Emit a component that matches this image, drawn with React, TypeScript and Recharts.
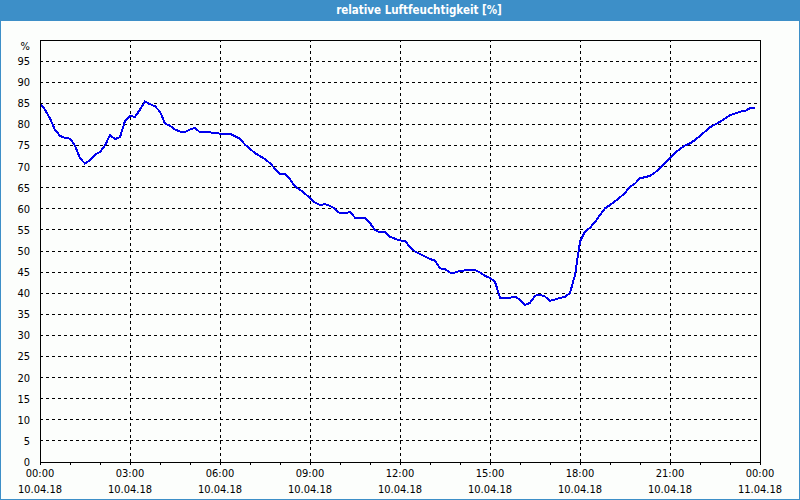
import React from "react";
import { LineChart, Line, XAxis, YAxis, ReferenceLine } from "recharts";

// relative humidity (%) every 10 minutes from 10.04.18 00:00 to 23:50
const humidity: number[] = [
  85, 83.5, 81.4, 78.7, 77.3, 76.8, 76.6, 75, 72, 70.7, 71.5, 72.8, 73.5, 75, 77.5, 76.5, 77, 80.8, 82, 81.8, 83.5, 85.4, 84.8, 84.3, 83, 80.2, 79.7,
  78.8, 78.3, 78.2, 78.8, 79.2, 78.1, 78.1, 78.1, 78, 77.8, 77.8, 77.8, 77.2, 76.6, 75.2, 74.2, 73.2, 72.5, 71.8, 70.8, 69.5, 68.3, 68.3, 67, 65.3, 64.5, 63.6,
  62.5, 61.5, 60.9, 61.1, 60.7, 60, 58.9, 58.9, 59.3, 57.9, 57.9, 57.9, 56.6, 55, 54.4, 54.5, 53.4, 52.9, 52.5, 52.4, 50.9, 49.9, 49.3, 48.7, 48.1, 47.7,
  45.9, 45.7, 44.9, 44.9, 45.3, 45.4, 45.4, 45.5, 44.9, 44.1, 43.6, 42.7, 38.9, 38.9, 38.9, 39.2, 38.4, 37.2, 37.7, 39.4, 39.6, 39.2, 38.2, 38.5, 38.9, 39.1, 40.1,
  44.3,
  52.2, 54.6, 55.5, 56.9, 58.5, 60.1, 60.9, 61.8, 62.7, 63.8, 65.2, 66, 67.2, 67.5, 67.8, 68.6, 69.7, 70.9, 72, 73.3, 74.2, 75, 75.5, 76.3, 77.3, 78.3, 79.3, 80, 80.6, 81.4, 82.2, 82.6, 83, 83.2, 83.8, 84,
];
const stepMinutes = 10;

const labelTicks: number[] = [0, 180, 360, 540, 720, 900, 1080, 1260, 1440];
const timeLabels: string[] = ["00:00", "03:00", "06:00", "09:00", "12:00", "15:00", "18:00", "21:00", "00:00"];
const dateLabels: string[] = ["10.04.18", "10.04.18", "10.04.18", "10.04.18", "10.04.18", "10.04.18", "10.04.18", "10.04.18", "11.04.18"];
const hourTicks: number[] = Array.from({ length: 25 }, (_, i) => i * 60);
const yTicks: number[] = [0, 5, 10, 15, 20, 25, 30, 35, 40, 45, 50, 55, 60, 65, 70, 75, 80, 85, 90, 95, 100];
const yGrid: number[] = yTicks.filter((v) => v > 0 && v < 100);
const xGrid: number[] = labelTicks.filter((v) => v > 0 && v < 1440);

const title = "relative Luftfeuchtigkeit [%]";

const data = humidity.map((h, i) => ({ t: i * stepMinutes, h }));

const FONT = "'DejaVu Sans Condensed', 'DejaVu Sans', sans-serif";
const BLUE = "#3d8fc8";

const XTick = (props: any) => {
  const { x, y, payload } = props;
  const idx = labelTicks.indexOf(payload.value);
  if (idx < 0) return <g />;
  return (
    <text x={x} y={y} textAnchor="middle" fontFamily={FONT} fontSize={11} fill="#000">
      <tspan x={x} dy={10}>{timeLabels[idx]}</tspan>
      <tspan x={x} dy={16}>{dateLabels[idx]}</tspan>
    </text>
  );
};

const YTick = (props: any) => {
  const { x, y, payload } = props;
  const isTop = payload.value === 100;
  return (
    <text x={x} y={y + (isTop ? 6 : 0)} dy="0.355em" textAnchor="end" fontFamily={FONT} fontSize={11} fill="#000">
      {isTop ? "%" : String(payload.value)}
    </text>
  );
};

export default function App() {
  return (
    <div
      style={{
        position: "absolute",
        left: 0,
        top: 0,
        width: 800,
        height: 500,
        boxSizing: "border-box",
        background: "#fcfefc",
        borderLeft: `1px solid ${BLUE}`,
        borderRight: `1px solid ${BLUE}`,
        borderBottom: `1px solid ${BLUE}`,
        overflow: "hidden",
      }}
    >
      <div
        style={{
          position: "absolute",
          left: 36,
          top: 0,
          width: 764,
          height: 21,
          background: BLUE,
          color: "#fff",
          fontFamily: FONT,
          fontWeight: "bold",
          fontSize: 11.5,
          lineHeight: "21px",
          textAlign: "center",
        }}
      >
        {title}
      </div>
      <div style={{ position: "absolute", left: -1, top: 0, width: 40, height: 21, background: BLUE }} />
      <div style={{ position: "absolute", left: -1, top: 0 }}>
        <LineChart
          width={800}
          height={500}
          data={data}
          margin={{ top: 40, right: 40, bottom: 8, left: 0 }}
          style={{ shapeRendering: "crispEdges" }}
        >
          <XAxis
            dataKey="t"
            type="number"
            domain={[0, 1440]}
            ticks={hourTicks}
            interval={0}
            tickSize={3}
            tickMargin={2}
            height={30}
            axisLine={{ stroke: "#000" }}
            tickLine={{ stroke: "#000" }}
            tick={<XTick />}
          />
          <YAxis
            type="number"
            domain={[0, 100]}
            ticks={yTicks}
            interval={0}
            width={40}
            tickLine={false}
            tickMargin={4}
            axisLine={{ stroke: "#000" }}
            tick={<YTick />}
          />
          {yGrid.map((v) => (
            <ReferenceLine key={`y${v}`} y={v} stroke="#000" strokeDasharray="3 3" />
          ))}
          {xGrid.map((v) => (
            <ReferenceLine key={`x${v}`} x={v} stroke="#000" strokeDasharray="3 3" />
          ))}
          <ReferenceLine y={100} stroke="#000" />
          <ReferenceLine x={1440} stroke="#000" />
          <Line
            type="linear"
            dataKey="h"
            stroke="#0000ee"
            strokeWidth={2}
            dot={false}
            isAnimationActive={false}
          />
        </LineChart>
      </div>
    </div>
  );
}
